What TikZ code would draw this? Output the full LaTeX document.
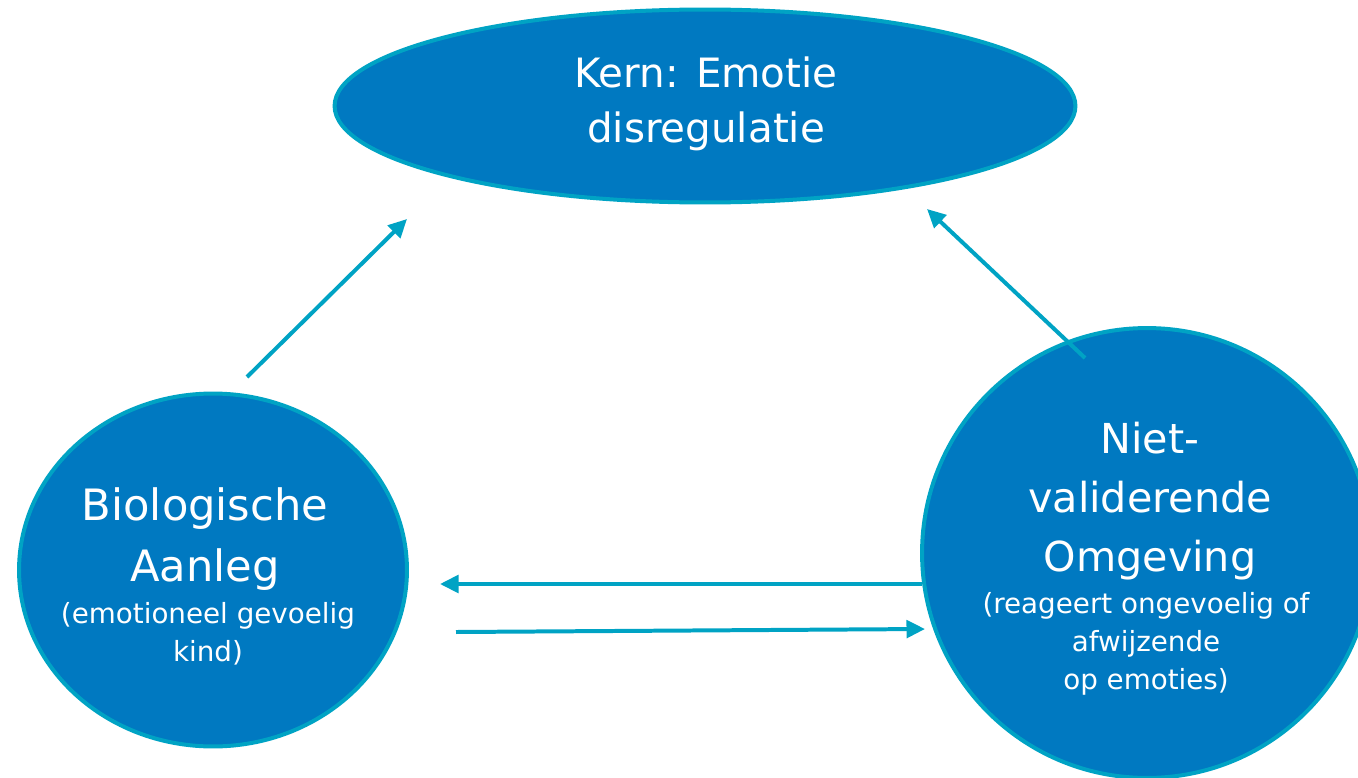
\documentclass[tikz,border=0pt]{standalone}
\usepackage{fontspec}
\setmainfont{DejaVu Sans}
\usetikzlibrary{arrows.meta,shapes.geometric}
\definecolor{kernblue}{RGB}{0,121,193}
\definecolor{rimteal}{RGB}{0,163,196}
\tikzset{blob/.style={fill=kernblue, draw=rimteal, line width=2.27pt, inner sep=0pt},
  bigtxt/.style={text=white, align=center, font=\fontsize{23.5}{33.5}\selectfont},
  smalltxt/.style={text=white, align=center, font=\fontsize{15.8}{21.5}\selectfont},
  flow/.style={rimteal, line width=2.27pt, -{Triangle[length=0.37cm,width=0.35cm]}}}

\begin{document}
\begin{tikzpicture}[x=0.02cm,y=-0.02cm]
     \useasboundingbox (0,0) rectangle (1358,777);
     \clip (0,0) rectangle (1358,777);
     % kern
     \node[blob, ellipse, minimum width=14.82cm, minimum height=3.86cm] (kern) at (705,106) {};
     \node[bigtxt, font=\fontsize{23}{31}\selectfont] (kerntxt) at (706,104) {Kern: Emotie\\disregulatie};
     % biologische aanleg
     \node[blob, ellipse, minimum width=7.76cm, minimum height=7.06cm] (bio) at (213,570) {};
     \node[bigtxt, font=\fontsize{24.6}{34.5}\selectfont] (biotxt) at (205,539) {Biologische\\Aanleg};
     \node[smalltxt] (biosub) at (208,634) {(emotioneel gevoelig\\kind)};
     % omgeving
     \node[blob, circle, minimum size=9.0cm] (omg) at (1147,553) {};
     \node[bigtxt] (omgtxt) at (1150,501) {Niet-\\validerende\\Omgeving};
     \node[smalltxt] (omgsub) at (1146,644) {(reageert ongevoelig of\\afwijzende\\op emoties)};
     % pijlen
     \coordinate (bioup) at (247,377);
     \coordinate (kernL) at (407,219);
     \coordinate (omgup) at (1085,358);
     \coordinate (kernR) at (927,209);
     \coordinate (omgL) at (922,584);
     \coordinate (bioR) at (440,584);
     \coordinate (bioO) at (456,632);
     \coordinate (omgR) at (925,629);
     \draw[flow] (bioup) -- (kernL);
     \draw[flow] (omgup) -- (kernR);
     \draw[flow] (omgL) -- (bioR);
     \draw[flow] (bioO) -- (omgR);
\end{tikzpicture}
\end{document}
